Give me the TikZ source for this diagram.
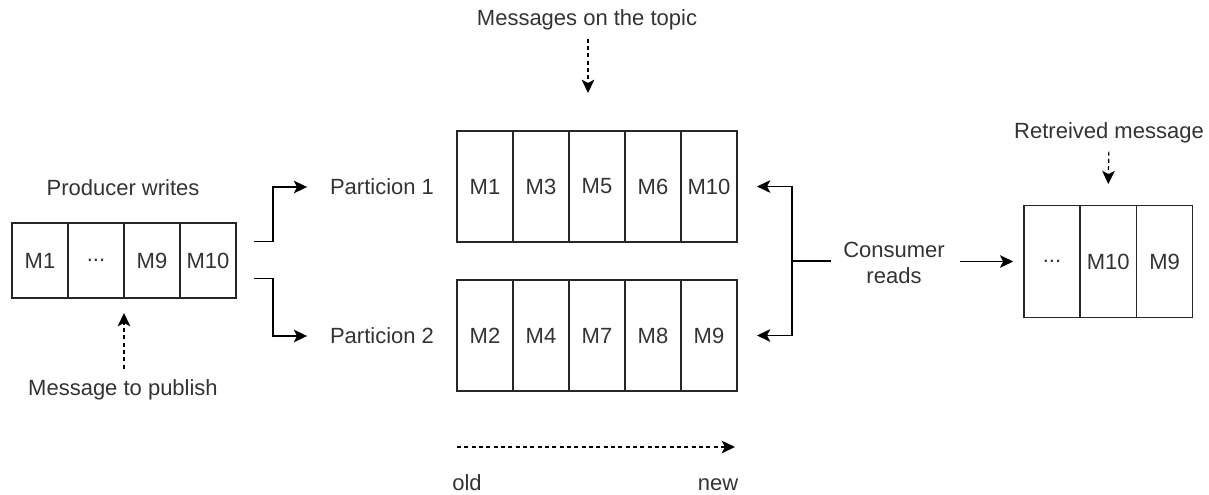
\documentclass[tikz,border=0pt]{standalone}
\usepackage{fontspec}
\setmainfont{Liberation Sans}
\usetikzlibrary{positioning, calc, arrows.meta}
\newcommand{\dfont}{\fontsize{16.5}{19}\selectfont}
\tikzstyle{cell}=[rectangle, draw=black!85, line width=1.1pt, outer sep=0pt,
                          % size of one message slot
                          inner sep=0pt, minimum width=42pt, minimum height=83.25pt]
\tikzstyle{pcell}=[cell, minimum height=56.25pt]
\tikzstyle{rcell}=[cell, minimum width=42.2pt, minimum height=84pt]
\tikzstyle{txt}=[inner sep=0pt, text=black!80, font=\dfont]
\tikzstyle{arr}=[draw=black, line width=1.1pt, -{Stealth[length=10pt, width=9.5pt, inset=2.5pt]}]
\tikzstyle{dasharr}=[arr, line width=0.9pt, dash pattern=on 3pt off 2.5pt]

\begin{document}
\begin{tikzpicture}[x=0.75pt, y=-0.75pt]
  \useasboundingbox (0,0) rectangle (1209,495);

  % Producer buffer on the left
  \node[pcell, txt] (w1) at (40,260.5) {M1};
  \node[pcell, txt, right = 0pt of w1] (w2) {...};
  \node[pcell, txt, right = 0pt of w2] (w3) {M9};
  \node[pcell, txt, right = 0pt of w3] (w4) {M10};
  \node[txt] (prod) at (123,188) {Producer writes};
  \node[txt] (pub) at (123,390) {Message to publish};

  % Partition labels and their cells
  \node[txt] (part1) at (382,187) {Particion 1};
  \node[txt] (part2) at (382,336) {Particion 2};

  \node[cell, txt] (p1c1) at (485,186.5) {M1};
  \node[cell, txt, right = 0pt of p1c1] (p1c2) {M3};
  \node[cell, txt, right = 0pt of p1c2] (p1c3) {M5};
  \node[cell, txt, right = 0pt of p1c3] (p1c4) {M6};
  \node[cell, txt, right = 0pt of p1c4] (p1c5) {M10};

  \node[cell, txt] (p2c1) at (485,335.5) {M2};
  \node[cell, txt, right = 0pt of p2c1] (p2c2) {M4};
  \node[cell, txt, right = 0pt of p2c2] (p2c3) {M7};
  \node[cell, txt, right = 0pt of p2c3] (p2c4) {M8};
  \node[cell, txt, right = 0pt of p2c4] (p2c5) {M9};

  \node[txt] (topic) at (587,20) {Messages on the topic};
  \coordinate (topictip) at (588,93);
  \node[txt, anchor=base] (old) at (467,490) {old};
  \node[txt, anchor=base] (new) at (718,490) {new};

  % Consumer and retrieved buffer on the right
  \node[txt, align=center] (cons) at (894,263) {Consumer\\reads};
  \coordinate (cjoin) at (792,261);

  \node[rcell, txt] (r1) at (1052,261.5) {...};
  \node[rcell, txt, right = 0pt of r1] (r2) {M10};
  \node[rcell, txt, right = 0pt of r2] (r3) {M9};
  \node[txt] (retr) at (1109,133) {Retreived message};

  % Producer to partitions
  \coordinate (wout1) at ([shift={(13.5pt,14.25pt)}]w4.east);
  \coordinate (wout2) at ([shift={(13.5pt,-13.5pt)}]w4.east);
  \draw[arr] (wout1) -- ++(19,0) |- ([xshift=-17pt]part1.west);
  \draw[arr] (wout2) -- ++(19,0) |- ([xshift=-17pt]part2.west);

  % Consumer reads both partitions
  \draw[draw=black, line width=1.1pt, shorten <=9pt] (cons.west |- cjoin) -- (cjoin);
  \draw[arr] (cjoin) |- ([xshift=15pt]p1c5.east);
  \draw[arr] (cjoin) |- ([xshift=15pt]p2c5.east);
  \draw[arr, shorten <=11pt, shorten >=8pt] (cons.east |- r1.west) -- (r1.west);

  % Dashed hints
  \draw[dasharr, shorten <=6pt] (topic.south -| topictip) -- (topictip);
  \draw[dasharr, shorten <=6pt] (retr.south) -- ([yshift=16pt]r2.north);
  \draw[dasharr, shorten <=8pt] (pub.north -| w2.south east) -- ([yshift=-11.25pt]w2.south east);
  \draw[dasharr] ([yshift=-42pt]p2c1.south west) -- ([shift={(-1.5pt,-42pt)}]p2c5.south east);
\end{tikzpicture}
\end{document}
